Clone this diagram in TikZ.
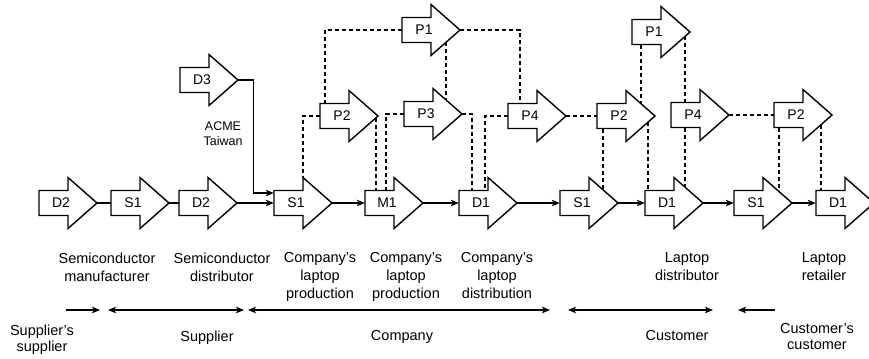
\documentclass[tikz,border=0pt]{standalone}
\usepackage{fontspec}
\setmainfont{Liberation Sans}
\usetikzlibrary{calc,arrows.meta}
\tikzset{
  chevbox/.style={rectangle, minimum width=58bp, minimum height=51bp, inner sep=0pt, font=\fontsize{14bp}{16bp}\selectfont},
  chevline/.style={line width=1.4bp, line join=miter, fill=white},
  tip/.style={Stealth[length=8bp,width=6.5bp,inset=2bp]},
  flow/.style={line width=1.1bp, -{Stealth[length=8bp,width=6.5bp,inset=2bp]}},
  link/.style={line width=1.1bp},
  dlink/.style={line width=1.2bp, dash pattern=on 4bp off 3bp},
  span/.style={line width=1.1bp, {Stealth[length=8bp,width=6.5bp,inset=2bp]}-{Stealth[length=8bp,width=6.5bp,inset=2bp]}},
  lab/.style={align=center, anchor=north, inner sep=0pt, font=\fontsize{14.5bp}{18bp}\selectfont},
  blab/.style={align=center, anchor=north, inner sep=0pt, font=\fontsize{14.5bp}{16bp}\selectfont},
}
\newcommand\chev[4]{%
  \draw[chevline, shift={(#2,#3)}] (-29,-12.5) -- (0,-12.5) -- (0,-25.5) -- (29,0) -- (0,25.5) -- (0,12.5) -- (-29,12.5) -- cycle;
  \node[chevbox] (#1) at (#2,#3) {#4\hspace*{14bp}};
}
\begin{document}
\begin{tikzpicture}[x=1bp,y=-1bp]
\useasboundingbox (0,0) rectangle (869,358);
% main row
\chev{D2a}{68}{203}{D2}
\chev{S1a}{140}{203}{S1}
\chev{D2b}{208}{203}{D2}
\chev{S1c}{303}{203}{S1}
\chev{M1}{394}{203}{M1}
\chev{D1c}{488}{203}{D1}
\chev{S1d}{589}{203}{S1}
\chev{D1d}{674}{203}{D1}
\chev{S1e}{763}{203}{S1}
\chev{D1e}{845}{203}{D1}
% upper rows
\chev{D3}{209}{80}{D3}
\chev{P1a}{431}{30}{P1}
\chev{P1b}{661}{32}{P1}
\chev{P2a}{349}{116}{P2}
\chev{P3}{433}{114}{P3}
\chev{P4a}{537}{116}{P4}
\chev{P2b}{626}{116}{P2}
\chev{P4b}{700}{115}{P4}
\chev{P2c}{803}{115}{P2}
% solid connectors
\draw[link] (D2a.east) -- (S1a.west);
\draw[link] (S1a.east) -- (D2b.west);
\draw[flow] (D2b.east) -- (S1c.west);
\draw[flow] (S1c.east) -- (M1.west);
\draw[flow] (M1.east) -- (D1c.west);
\draw[flow] (D1c.east) -- (S1d.west);
\draw[flow] (S1d.east) -- (D1d.west);
\draw[flow] (D1d.east) -- (S1e.west);
\draw[flow] (S1e.east) -- (D1e.west);
\draw[flow] (D3.east) -- ++(15,0) |- ($(S1c.west)+(0,-10)$);
% dashed connectors
\draw[dlink] (P1a.west) -| ($(P2a.center)+(-24,-12.5)$);
\draw[dlink] (P1a.east) -| ($(P4a.center)+(-17,-12.5)$);
\draw[dlink] ($(P1a.center)+(15,12.3)$) -- ($(P3.center)+(13,-14.1)$);
\draw[dlink] (P2a.west) -| ($(S1c.center)+(0,-25.5)$);
\draw[dlink] ($(P2a.center)+(27,1.8)$) -- ($(M1.center)+(-18,-12.5)$);
\draw[dlink] (P3.west) -| ($(M1.center)+(-8,-12.5)$);
\draw[dlink] (P3.east) -| ($(D1c.center)+(-16,-12.5)$);
\draw[dlink] (P4a.west) -| ($(D1c.center)+(-3,-12.5)$);
\draw[dlink] (P4a.east) -- (P2b.west);
\draw[dlink] ($(P1b.center)+(-20,12.5)$) -- ($(P2b.center)+(15,-12.3)$);
\draw[dlink] ($(P1b.center)+(24,4.4)$) -- ($(P4b.center)+(-15,-12.5)$);
\draw[dlink] ($(P2b.center)+(-23,12.5)$) -- ($(S1d.center)+(14,-13.2)$);
\draw[dlink] ($(P2b.center)+(22,6.2)$) -- ($(D1d.center)+(-26,-12.5)$);
\draw[dlink] ($(P4b.center)+(-15,12.5)$) -- ($(D1d.center)+(11,-15.8)$);
\draw[dlink] (P4b.east) -- (P2c.west);
\draw[dlink] ($(P2c.center)+(-24,12.5)$) -- ($(S1e.center)+(16,-11.4)$);
\draw[dlink] ($(P2c.center)+(18,9.7)$) -- ($(D1e.center)+(-24,-12.5)$);
% labels
\node[align=center, anchor=north, inner sep=0pt, font=\fontsize{12.5bp}{15bp}\selectfont] (acme) at (223,122) {ACME\\Taiwan};
\node[lab] (l1) at (107,252.5) {Semiconductor\\manufacturer};
\node[lab] (l2) at (222,252.5) {Semiconductor\\distributor};
\node[lab] (l3) at (320,252.5) {Company's\\laptop\\production};
\node[lab] (l4) at (406,252.5) {Company's\\laptop\\production};
\node[lab] (l5) at (497,252.5) {Company's\\laptop\\distribution};
\node[lab] (l6) at (687,252.5) {Laptop\\distributor};
\node[lab] (l7) at (824,252.5) {Laptop\\retailer};
% bottom spans
\coordinate (a0) at (66,310);  \coordinate (a1) at (100,310);
\coordinate (b0) at (108,310); \coordinate (b1) at (244,310);
\coordinate (c0) at (248,310); \coordinate (c1) at (550,310);
\coordinate (d0) at (568,310); \coordinate (d1) at (713,310);
\coordinate (e0) at (775,310); \coordinate (e1) at (738,310);
\draw[flow] (a0) -- (a1);
\draw[span] (b0) -- (b1);
\draw[span] (c0) -- (c1);
\draw[span] (d0) -- (d1);
\draw[flow] (e0) -- (e1);
\node[blab] (s0) at (42,324.5) {Supplier's\\supplier};
\node[blab] (s1) at (207,330.5) {Supplier};
\node[blab] (s2) at (402,330.5) {Company};
\node[blab] (s3) at (677,330.5) {Customer};
\node[blab] (s4) at (817,323.5) {Customer's\\customer};
\end{tikzpicture}
\end{document}
